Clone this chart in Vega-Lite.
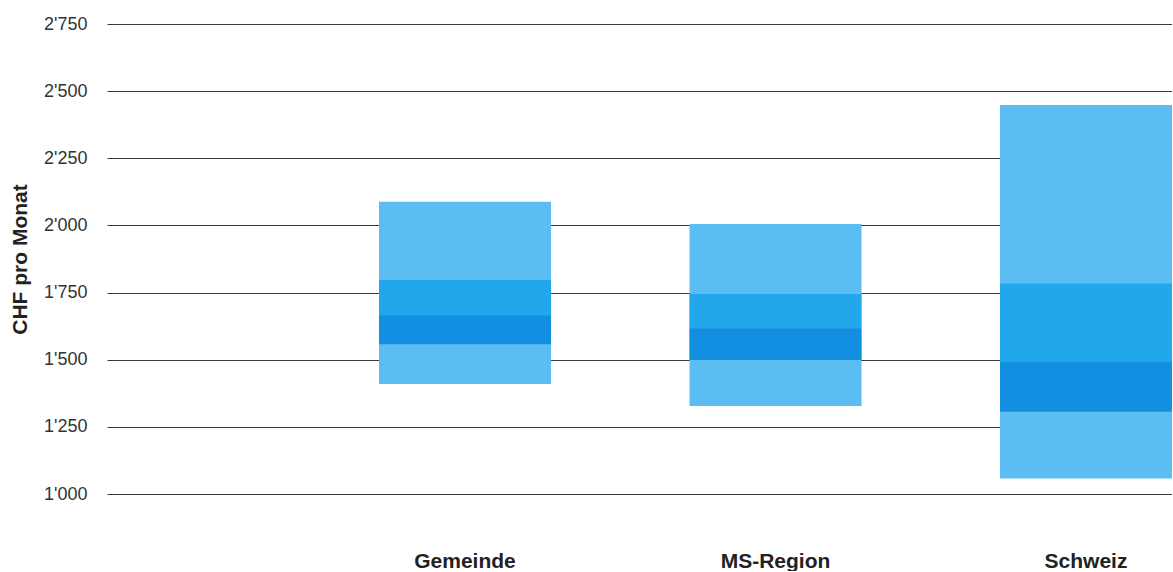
{
  "$schema": "https://vega.github.io/schema/vega-lite/v6.json",
  "width": 1065,
  "height": 470,
  "padding": {"left": 9, "top": 15, "right": 0, "bottom": 0},
  "background": "#ffffff",
  "config": {
    "locale": {"number": {"decimal": ".", "thousands": "'", "grouping": [3], "currency": ["CHF ", ""]}},
    "view": {"stroke": null},
    "font": "Liberation Sans"
  },
  "data": {
    "values": [
      {"region": "Gemeinde", "p10": 1410, "p25": 1558, "p50": 1666, "p75": 1797, "p90": 2088},
      {"region": "MS-Region", "p10": 1328, "p25": 1499, "p50": 1617, "p75": 1745, "p90": 2005},
      {"region": "Schweiz", "p10": 1058, "p25": 1306, "p50": 1493, "p75": 1784, "p90": 2448}
    ]
  },
  "encoding": {
    "x": {
      "field": "region",
      "type": "nominal",
      "sort": ["Gemeinde", "MS-Region", "Schweiz"],
      "scale": {"paddingInner": 0.4461, "paddingOuter": 0.438, "align": 1},
      "axis": {
        "title": null,
        "labelAngle": 0,
        "domain": false,
        "ticks": false,
        "grid": false,
        "labelFontSize": 21,
        "labelFontWeight": "bold",
        "labelColor": "#222222",
        "labelPadding": 56,
        "labelBaseline": "top"
      }
    }
  },
  "layer": [
    {
      "mark": {"type": "bar", "color": "#5cbdf2"},
      "encoding": {
        "y": {
          "field": "p10",
          "type": "quantitative",
          "scale": {"domain": [1000, 2750], "nice": false, "zero": false},
          "axis": {
            "title": "CHF pro Monat",
            "titleFontSize": 21,
            "titleFontWeight": "bold",
            "titleColor": "#222222",
            "titlePadding": 13,
            "values": [1000, 1250, 1500, 1750, 2000, 2250, 2500, 2750],
            "format": ",d",
            "domain": false,
            "ticks": false,
            "labelFontSize": 18,
            "labelColor": "#333333",
            "labelPadding": 20,
            "grid": true,
            "gridColor": "#3a3a3a",
            "gridWidth": 1,
            "gridOpacity": 1
          }
        },
        "y2": {"field": "p90"}
      }
    },
    {
      "mark": {"type": "bar", "color": "#22a6ec"},
      "encoding": {
        "y": {"field": "p50", "type": "quantitative"},
        "y2": {"field": "p75"}
      }
    },
    {
      "mark": {"type": "bar", "color": "#128fe0"},
      "encoding": {
        "y": {"field": "p25", "type": "quantitative"},
        "y2": {"field": "p50"}
      }
    }
  ]
}
